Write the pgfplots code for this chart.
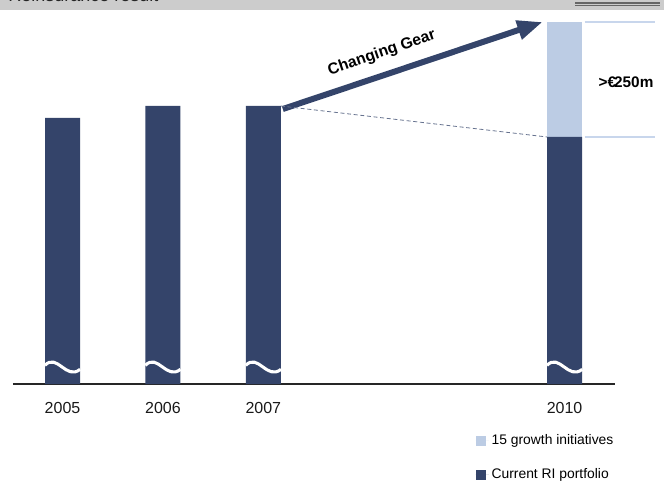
\documentclass[border=0pt]{standalone}
\usepackage{fontspec}
\setmainfont{Liberation Sans}
\usepackage{pgfplots}
\pgfplotsset{compat=1.18}
\usetikzlibrary{arrows.meta}
\definecolor{navy}{HTML}{34446A}
\definecolor{lightb}{HTML}{BCCCE4}
\definecolor{hdr}{HTML}{CCCCCC}
\definecolor{lline}{HTML}{C8D6EC}
\begin{document}
\begin{tikzpicture}
\useasboundingbox (0,0) rectangle (498pt,361.5pt);
\clip (0,0) rectangle (498pt,361.5pt);
\begin{scope}[x=0.75pt,y=0.75pt]
\fill[hdr] (0,472) rectangle (664,482);
\node[anchor=base west, font=\fontsize{13.5}{15}\selectfont, text=black!85, inner sep=0pt] at (8,480.5) {Reinsurance result};
\draw[black!60, line width=0.9pt] (575,479) -- (660,479) (575,476.5) -- (660,476.5);
\end{scope}
\begin{axis}[
  at={(9.75pt,73.5pt)}, anchor=south west,
  scale only axis, width=451.5pt, height=280.5pt,
  xmin=2004.507, xmax=2010.502, ymin=0, ymax=374,
  ybar stacked, bar width=26.25pt,
  axis y line=none, axis x line*=bottom,
  x axis line style={-, black!85, line width=0.8pt},
  xtick={2005,2006,2007,2010}, xticklabels={2005,2006,2007,2010},
  major tick length=0pt,
  xticklabel style={font=\fontsize{12}{14}\selectfont, anchor=center, yshift=-18.3pt, text=black!90},
  clip=false,
  reverse legend,
  legend style={at={(0.768,-0.128)}, anchor=north west, draw=none, fill=none,
    inner sep=0pt, font=\fontsize{10.4}{12}\selectfont, row sep=12.5pt,
    legend cell align=left},
  legend image code/.code={\fill[#1] (0pt,-3.75pt) rectangle (7.5pt,3.75pt); \path (0pt,0pt) -- (10pt,0pt);},
]
\addplot[fill=navy, draw=none] coordinates {(2005,266) (2006,278) (2007,278) (2010,247)};
\addlegendentry{Current RI portfolio}
\addplot[fill=lightb, draw=none] coordinates {(2005,0) (2006,0) (2007,0) (2010,115)};
\addlegendentry{15 growth initiatives}
\coordinate (b1) at (axis cs:2005,0);
\coordinate (b2) at (axis cs:2006,0);
\coordinate (b3) at (axis cs:2007,0);
\coordinate (b4) at (axis cs:2010,0);
\draw[navy!75, line width=0.6pt, dash pattern=on 3pt off 2pt] (axis cs:2007.174,278) -- (axis cs:2009.826,247);
\draw[navy, line width=4.5pt, -{Triangle[length=19pt, width=14pt]}] (axis cs:2007.194,275) -- (axis cs:2009.781,362);
\node[font=\bfseries\fontsize{11.8}{13}\selectfont, rotate=19] at (axis cs:2008.18,331) {Changing Gear};
\draw[lline, line width=1.1pt] (axis cs:2010.199,362) -- (axis cs:2010.896,362);
\draw[lline, line width=1.1pt] (axis cs:2010.199,247) -- (axis cs:2010.896,247);
\node[font=\bfseries\fontsize{11.5}{13}\selectfont] at (axis cs:2010.612,302) {>€\kern-1.5pt250m};
\end{axis}
\foreach \b in {b1,b2,b3,b4}{
  \draw[white, line width=2.3pt] ([shift={(-13.2pt,14pt)}]\b) .. controls ([shift={(-3.9pt,23.5pt)}]\b) and ([shift={(2.6pt,2.5pt)}]\b) .. ([shift={(13.2pt,11pt)}]\b);
}
\end{tikzpicture}
\end{document}
